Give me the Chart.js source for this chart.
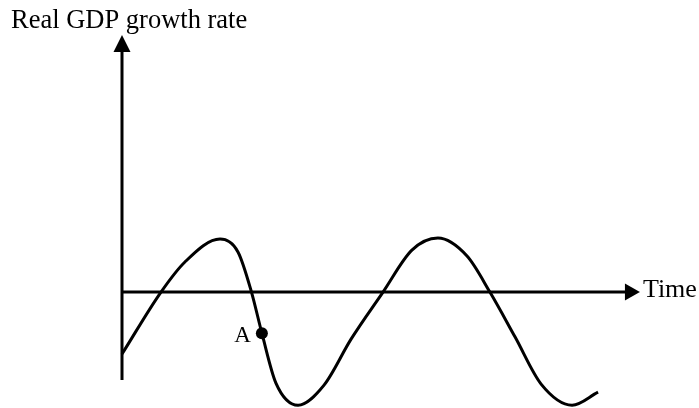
<!DOCTYPE html>
<html>
<head>
<meta charset="utf-8">
<script src="https://cdn.jsdelivr.net/npm/chart.js@4/dist/chart.umd.min.js"></script>
<style>
  html, body { margin: 0; padding: 0; background: #ffffff; overflow: hidden; }
  #wrap { position: relative; width: 699px; height: 408px; }
</style>
</head>
<body>
<div id="wrap"><canvas id="cycle"></canvas></div>
<script>
// Business cycle: real GDP growth rate over time
const timePoints = [
  0.00, 1.50, 2.42, 3.77, 4.46, 4.98, 5.38, 5.92, 6.77, 7.77, 8.81, 10.04,
  11.15, 12.15, 13.27, 14.15, 15.12, 16.12, 17.31, 18.31
];
const growthRates = [
  -2.41, 0.00, 1.17, 2.06, 1.56, 0.00, -1.60, -3.54, -4.40, -3.62, -1.83, 0.00,
  1.63, 2.10, 1.40, 0.00, -1.75, -3.58, -4.40, -3.89
];
const pointA = { label: 'A', time: 5.38, rate: -1.60 };
const axisTitles = { y: 'Real GDP growth rate', x: 'Time' };

const axisRange = { xMin: 0, xMax: 20, yMin: -4.51, yMax: 10, yAxisBottom: -3.42, xArrowTip: 19.92 };

const curveData = timePoints.map((t, i) => ({ x: t, y: growthRates[i] }));

function arrowHead(ctx, tipX, tipY, dir, len, half) {
  ctx.beginPath();
  if (dir === 'up') {
    ctx.moveTo(tipX, tipY);
    ctx.lineTo(tipX - half, tipY + len);
    ctx.lineTo(tipX + half, tipY + len);
  } else {
    ctx.moveTo(tipX, tipY);
    ctx.lineTo(tipX - len, tipY - half);
    ctx.lineTo(tipX - len, tipY + half);
  }
  ctx.closePath();
  ctx.fill();
}

// Draws the two arrowed axes behind the curve, and the labels on top
const axesPlugin = {
  id: 'arrowAxes',
  beforeDatasetsDraw(chart) {
    const { ctx, scales: { x, y } } = chart;
    const ox = x.getPixelForValue(0);
    const oy = y.getPixelForValue(0);
    const yTop = y.getPixelForValue(axisRange.yMax);
    const yBot = y.getPixelForValue(axisRange.yAxisBottom);
    const xTip = x.getPixelForValue(axisRange.xArrowTip);
    ctx.save();
    ctx.strokeStyle = '#000';
    ctx.fillStyle = '#000';
    ctx.lineWidth = 3;
    ctx.beginPath();
    ctx.moveTo(ox, yBot);
    ctx.lineTo(ox, yTop + 12);
    ctx.moveTo(ox - 1.5, oy);
    ctx.lineTo(xTip - 12, oy);
    ctx.stroke();
    arrowHead(ctx, ox, yTop, 'up', 17, 8.5);
    arrowHead(ctx, xTip, oy, 'right', 15, 8.5);
    ctx.restore();
  },
  afterDatasetsDraw(chart) {
    const { ctx, scales: { x, y } } = chart;
    const ox = x.getPixelForValue(0);
    const oy = y.getPixelForValue(0);
    const xTip = x.getPixelForValue(axisRange.xArrowTip);
    ctx.save();
    ctx.fillStyle = '#000';
    ctx.textBaseline = 'alphabetic';
    ctx.textAlign = 'left';
    ctx.font = '26.5px "Liberation Serif", "Times New Roman", serif';
    ctx.fillText(axisTitles.y, ox - 111, 28);
    ctx.font = '26px "Liberation Serif", "Times New Roman", serif';
    ctx.fillText(axisTitles.x, xTip + 3, oy + 5);
    ctx.font = '23px "Liberation Serif", "Times New Roman", serif';
    ctx.textAlign = 'right';
    const ax = x.getPixelForValue(pointA.time);
    const ay = y.getPixelForValue(pointA.rate);
    ctx.fillText(pointA.label, ax - 11, ay + 9);
    ctx.restore();
  }
};

new Chart(document.getElementById('cycle'), {
  type: 'scatter',
  data: {
    datasets: [
      {
        data: curveData,
        showLine: true,
        borderColor: '#000',
        borderWidth: 3,
        pointRadius: 0,
        cubicInterpolationMode: 'monotone',
        clip: false,
        order: 2
      },
      {
        data: [{ x: pointA.time, y: pointA.rate }],
        pointRadius: 6,
        pointBackgroundColor: '#000',
        pointBorderColor: '#000',
        pointBorderWidth: 0,
        clip: false,
        order: 1
      }
    ]
  },
  options: {
    responsive: true,
    maintainAspectRatio: false,
    animation: false,
    layout: { autoPadding: false, padding: { left: 122, top: 35, right: 57, bottom: 0 } },
    plugins: { legend: { display: false }, tooltip: { enabled: false } },
    scales: {
      x: { type: 'linear', min: axisRange.xMin, max: axisRange.xMax, display: false },
      y: { type: 'linear', min: axisRange.yMin, max: axisRange.yMax, display: false }
    }
  },
  plugins: [axesPlugin]
});
</script>
</body>
</html>
